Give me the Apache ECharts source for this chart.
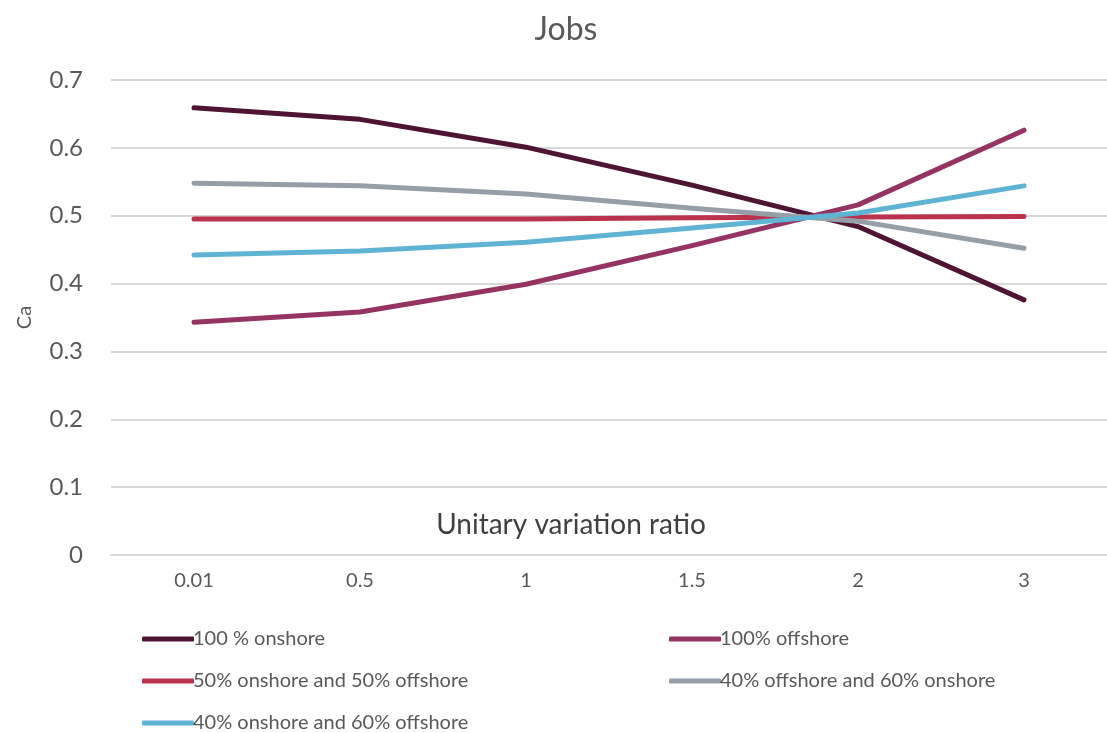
<!DOCTYPE html>
<html><head><meta charset="utf-8">
<script src="https://cdn.jsdelivr.net/npm/echarts@6/dist/echarts.min.js"></script>
<style>html,body{margin:0;padding:0;background:#fff}#c{width:1107px;height:733px}</style>
</head><body><div id="c"></div>
<script>
const categories = ['0.01', '0.5', '1', '1.5', '2', '3'];
const onshore100 = [0.659, 0.642, 0.601, 0.545, 0.484, 0.376];
const offshore100 = [0.343, 0.358, 0.399, 0.456, 0.516, 0.626];
const on50off50 = [0.495, 0.495, 0.495, 0.497, 0.498, 0.499];
const off40on60 = [0.548, 0.544, 0.532, 0.511, 0.492, 0.452];
const on40off60 = [0.442, 0.448, 0.461, 0.482, 0.504, 0.544];
const seriesNames = ['100 % onshore', '100% offshore', '50% onshore and 50% offshore', '40% offshore and 60% onshore', '40% onshore and 60% offshore'];
const colors = ['#4e1433', '#953363', '#b9334c', '#969ea8', '#60b4d3'];
const FONT = 'Lato, "Open Sans", sans-serif';
const TXT = '#595959';
const chart = echarts.init(document.getElementById('c'));
const dataSets = [onshore100, offshore100, on50off50, off40on60, on40off60];
const legendCommon = {
  orient: 'vertical', itemWidth: 52, itemHeight: 5, itemGap: 22, icon: 'roundRect', height: 200,
  textStyle: {fontFamily: FONT, fontSize: 20, color: TXT, padding: [0, 0, 0, -6]}
};
chart.setOption({
  animation: false,
  title: {text: 'Jobs', left: 561, textAlign: 'center', top: 9,
    textStyle: {fontFamily: FONT, fontSize: 32, fontWeight: 'normal', color: TXT}},
  grid: {left: 111, top: 80, width: 1004, height: 475, containLabel: false},
  legend: [
    Object.assign({left: 137, top: 624, data: [seriesNames[0], seriesNames[2], seriesNames[4]]}, legendCommon),
    Object.assign({left: 664, top: 624, data: [seriesNames[1], seriesNames[3]]}, legendCommon)
  ],
  xAxis: {
    type: 'category', data: categories, boundaryGap: true,
    name: 'Unitary variation ratio', nameLocation: 'middle', nameGap: -44, nameMoveOverlap: false,
    nameTextStyle: {fontFamily: FONT, fontSize: 28, color: '#404040', padding: [0, 76, 0, 0]},
    axisLine: {show: true, lineStyle: {color: '#d9d9d9', width: 2}},
    axisTick: {show: false},
    axisLabel: {fontFamily: FONT, fontSize: 20, color: TXT, margin: 16}
  },
  yAxis: {
    type: 'value', min: 0, max: 0.7, interval: 0.1,
    name: 'Ca', nameLocation: 'middle', nameGap: 76,
    nameTextStyle: {fontFamily: FONT, fontSize: 20, color: TXT},
    axisLine: {show: false}, axisTick: {show: false},
    axisLabel: {fontFamily: FONT, fontSize: 24, color: TXT, margin: 28,
      formatter: v => String(Math.round(v * 10) / 10)},
    splitLine: {lineStyle: {color: '#d9d9d9', width: 2}}
  },
  series: dataSets.map((d, i) => ({
    name: seriesNames[i], type: 'line', data: d, showSymbol: false, symbol: 'none',
    color: colors[i],
    lineStyle: {width: 5, color: colors[i], cap: 'round', join: 'round'}
  }))
});
</script></body></html>
